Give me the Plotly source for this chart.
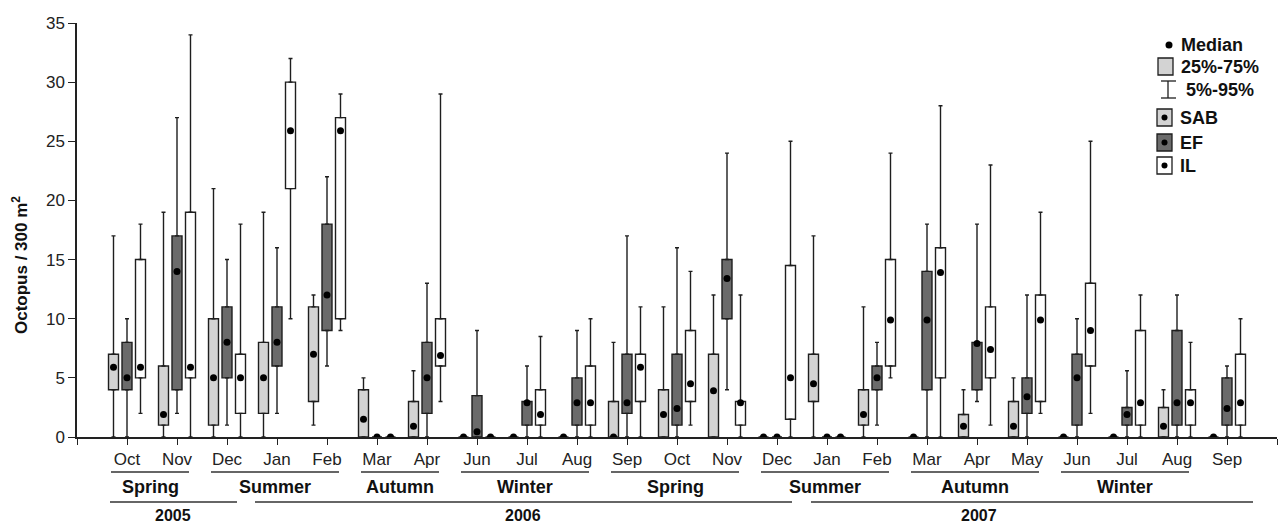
import plotly.graph_objects as go

# ---------------- data ----------------
months = ["Oct", "Nov", "Dec", "Jan", "Feb", "Mar", "Apr", "Jun", "Jul", "Aug", "Sep",
          "Oct", "Nov", "Dec", "Jan", "Feb", "Mar", "Apr", "May", "Jun", "Jul", "Aug", "Sep"]

sites = ["SAB", "EF", "IL"]

# 5th percentile, 25th, median, 75th, 95th  (octopus / 300 m2)
sab_p5  = [0, 0, 0, 0, 1, 0, 0, 0, 0, 0, 0, 0, 0, 0, 0, 0, 0, 0, 0, 0, 0, 0, 0]
sab_q1  = [4, 1, 1, 2, 3, 0, 0, 0, 0, 0, 0, 0, 0, 0, 3, 1, 0, 0, 0, 0, 0, 0, 0]
sab_med = [5.9, 1.9, 5, 5, 7, 1.5, 0.9, 0, 0, 0, 0, 1.9, 3.9, 0, 4.5, 1.9, 0, 0.9, 0.9, 0, 0, 0.9, 0]
sab_q3  = [7, 6, 10, 8, 11, 4, 3, 0, 0, 0, 3, 4, 7, 0, 7, 4, 0, 1.9, 3, 0, 0, 2.5, 0]
sab_p95 = [17, 19, 21, 19, 12, 5, 5.6, 0, 0, 0, 8, 11, 12, 0, 17, 11, 0, 4, 5, 0, 0, 4, 0]

ef_p5  = [0, 2, 1, 2, 6, 0, 0, 0, 0, 0, 0, 0, 4, 0, 0, 1, 0, 3, 0, 0, 0, 0, 0]
ef_q1  = [4, 4, 5, 6, 9, 0, 2, 0, 1, 1, 2, 1, 10, 0, 0, 4, 4, 4, 2, 1, 1, 1, 1]
ef_med = [5, 14, 8, 8, 12, 0, 5, 0.45, 2.9, 2.9, 2.9, 2.4, 13.4, 0, 0, 5, 9.9, 7.9, 3.4, 5, 1.9, 2.9, 2.4]
ef_q3  = [8, 17, 11, 11, 18, 0, 8, 3.5, 3, 5, 7, 7, 15, 0, 0, 6, 14, 8, 5, 7, 2.5, 9, 5]
ef_p95 = [10, 27, 15, 16, 22, 0, 13, 9, 6, 9, 17, 16, 24, 0, 0, 8, 18, 18, 12, 10, 5.6, 12, 6]

il_p5  = [2, 0, 0, 10, 9, 0, 3, 0, 0, 0, 0, 1, 0, 0, 0, 5, 0, 1, 2, 2, 0, 0, 0]
il_q1  = [5, 5, 2, 21, 10, 0, 6, 0, 1, 1, 3, 3, 1, 1.5, 0, 6, 5, 5, 3, 6, 1, 1, 1]
il_med = [5.9, 5.9, 5, 25.9, 25.9, 0, 6.9, 0, 1.9, 2.9, 5.9, 4.5, 2.9, 5, 0, 9.9, 13.9, 7.4, 9.9, 9, 2.9, 2.9, 2.9]
il_q3  = [15, 19, 7, 30, 27, 0, 10, 0, 4, 6, 7, 9, 3, 14.5, 0, 15, 16, 11, 12, 13, 9, 4, 7]
il_p95 = [18, 34, 18, 32, 29, 0, 29, 0, 8.5, 10, 11, 14, 12, 25, 0, 24, 28, 23, 19, 25, 12, 8, 10]

seasons = ["Spring", "Summer", "Autumn", "Winter", "Spring", "Summer", "Autumn", "Winter"]
season_first = [0, 2, 5, 7, 10, 13, 16, 19]   # month index of first month in season
season_last  = [1, 4, 6, 9, 12, 15, 18, 21]

years = ["2005", "2006", "2007"]
year_line_start = [-0.34, 2.56, 13.68]
year_line_end   = [2.2, 13.3, 22.52]
year_label_x    = [0.92, 7.92, 17.04]

y_ticks = [0, 5, 10, 15, 20, 25, 30, 35]

# ---------------- style ----------------
FONT = "Liberation Sans, Arial, Helvetica, sans-serif"
INK = "#1e1e1e"
fills = {"SAB": "#d3d3d3", "EF": "#6b6b6b", "IL": "#ffffff"}
offsets = {"SAB": -0.27, "EF": 0.0, "IL": 0.27}
BOX_W = 0.2

stats = {
    "SAB": (sab_p5, sab_q1, sab_med, sab_q3, sab_p95),
    "EF": (ef_p5, ef_q1, ef_med, ef_q3, ef_p95),
    "IL": (il_p5, il_q1, il_med, il_q3, il_p95),
}

# plot area geometry (pixels) for placing decorations
L, R, T, B = 77, 1277, 23, 437
W, H = 1279, 525
def px_x(p):
    return (p - L) / (R - L)
def px_y(p):
    return (B - p) / (B - T)

fig = go.Figure()
idx = list(range(len(months)))

for s in sites:
    p5, q1, med, q3, p95 = stats[s]
    xs = [i + offsets[s] for i in idx]
    # upper whisker
    fig.add_trace(go.Scatter(
        x=xs, y=q3, mode="markers", marker=dict(size=2, opacity=0),
        error_y=dict(type="data", symmetric=False,
                     array=[b - a for a, b in zip(q3, p95)],
                     arrayminus=[0] * len(q3),
                     color=INK, thickness=1.4, width=2),
        showlegend=False, hoverinfo="skip"))
    # lower whisker
    fig.add_trace(go.Scatter(
        x=xs, y=q1, mode="markers", marker=dict(size=2, opacity=0),
        error_y=dict(type="data", symmetric=False,
                     array=[0] * len(q1),
                     arrayminus=[a - b for a, b in zip(q1, p5)],
                     color=INK, thickness=1.4, width=2),
        showlegend=False, hoverinfo="skip"))
    # 25-75% box
    fig.add_trace(go.Bar(
        x=xs, y=[b - a for a, b in zip(q1, q3)], base=q1, width=BOX_W,
        marker=dict(color=fills[s], line=dict(color=INK, width=1.4)),
        name=s, showlegend=False))

for s in sites:
    p5, q1, med, q3, p95 = stats[s]
    xs = [i + offsets[s] for i in idx]
    fig.add_trace(go.Scatter(
        x=xs, y=med, mode="markers",
        marker=dict(color="#000000", size=7),
        name=s + " median", showlegend=False))

shapes = []
annotations = []

# season lines / labels
SEASON_Y_LINE = 472
SEASON_Y_TEXT = 487
for name, a, b in zip(seasons, season_first, season_last):
    x0, x1 = a - 0.32, b + 0.24
    shapes.append(dict(type="line", xref="x", yref="paper", x0=x0, x1=x1,
                       y0=px_y(SEASON_Y_LINE), y1=px_y(SEASON_Y_LINE),
                       line=dict(color="#333333", width=1.6)))
    annotations.append(dict(xref="x", yref="paper", x=(x0 + x1) / 2, y=px_y(SEASON_Y_TEXT),
                            text="<b>" + name + "</b>", showarrow=False,
                            xanchor="center", yanchor="middle",
                            font=dict(family=FONT, size=18, color="#111111")))

# year lines / labels
YEAR_Y_LINE = 502
YEAR_Y_TEXT_BOTTOM = 525
for name, x0, x1, xl in zip(years, year_line_start, year_line_end, year_label_x):
    shapes.append(dict(type="line", xref="x", yref="paper", x0=x0, x1=x1,
                       y0=px_y(YEAR_Y_LINE), y1=px_y(YEAR_Y_LINE),
                       line=dict(color="#333333", width=1.6)))
    annotations.append(dict(xref="x", yref="paper", x=xl, y=px_y(YEAR_Y_TEXT_BOTTOM),
                            text="<b>" + name + "</b>", showarrow=False,
                            xanchor="center", yanchor="bottom", borderpad=0,
                            font=dict(family=FONT, size=16, color="#111111")))

# y-axis title
annotations.append(dict(xref="paper", yref="paper", x=px_x(20), y=px_y(265),
                        text="<b>Octopus / 300 m<sup>2</sup></b>", showarrow=False,
                        textangle=-90, xanchor="center", yanchor="middle",
                        font=dict(family=FONT, size=17, color="#111111")))

# custom legend
def rect(x0, y0, x1, y1, fill):
    shapes.append(dict(type="rect", xref="paper", yref="paper",
                       x0=px_x(x0), x1=px_x(x1), y0=px_y(y1), y1=px_y(y0),
                       fillcolor=fill, line=dict(color=INK, width=1.3)))
def dot(cx, cy, r):
    shapes.append(dict(type="circle", xref="paper", yref="paper",
                       x0=px_x(cx - r), x1=px_x(cx + r), y0=px_y(cy + r), y1=px_y(cy - r),
                       fillcolor="#000000", line=dict(color="#000000", width=0)))
def seg(x0, y0, x1, y1):
    shapes.append(dict(type="line", xref="paper", yref="paper",
                       x0=px_x(x0), x1=px_x(x1), y0=px_y(y0), y1=px_y(y1),
                       line=dict(color=INK, width=1.3)))
def label(x, y, text):
    annotations.append(dict(xref="paper", yref="paper", x=px_x(x), y=px_y(y),
                            text="<b>" + text + "</b>", showarrow=False,
                            xanchor="left", yanchor="middle",
                            font=dict(family=FONT, size=18, color="#111111")))

dot(1169, 45, 3.5)
label(1179, 45, "Median")
rect(1158, 58, 1173, 75, "#d3d3d3")
label(1179, 67, "25%-75%")
seg(1168, 81, 1168, 98)
seg(1161, 81, 1176, 81)
seg(1161, 98, 1176, 98)
label(1184, 90, "5%-95%")
for s, (y0, y1) in zip(sites, [(109, 126), (134, 151), (157, 174)]):
    rect(1157, y0, 1172, y1, fills[s])
    dot(1164.5, (y0 + y1) / 2, 3)
    label(1178, (y0 + y1) / 2, s)

fig.update_layout(
    width=W, height=H,
    margin=dict(l=L, r=W - R, t=T, b=H - B),
    plot_bgcolor="white", paper_bgcolor="white",
    barmode="overlay", showlegend=False,
    shapes=shapes, annotations=annotations,
    font=dict(family=FONT, color="#222222"),
    xaxis=dict(range=[-1, len(months)], tickvals=idx, ticktext=months,
               showgrid=False, zeroline=False, showline=True, linecolor="#222222",
               linewidth=1.5, ticks="outside", ticklen=6, tickwidth=1.4,
               tickcolor="#222222", tickfont=dict(family=FONT, size=17, color="#222222"),
               minor=dict(tickvals=[-1, len(months)], ticks="outside", ticklen=6,
                          tickwidth=1.4, tickcolor="#222222", showgrid=False)),
    yaxis=dict(range=[0, 35], tickvals=y_ticks, showgrid=False, zeroline=False,
               showline=True, linecolor="#222222", linewidth=1.5, ticks="outside",
               ticklen=7, tickwidth=1.4, tickcolor="#222222",
               tickfont=dict(family=FONT, size=17, color="#222222")),
)

fig.write_html("out.html", config={"displayModeBar": False},
               post_script="document.body.style.margin='0';")
